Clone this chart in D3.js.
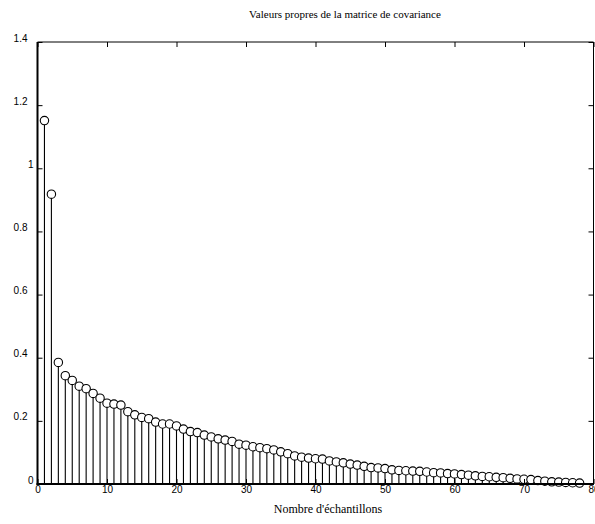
<!DOCTYPE html>
<html><head><meta charset="utf-8">
<script src="https://cdn.jsdelivr.net/npm/d3@7"></script>
<style>
body{margin:0;background:#fff;}
svg{display:block;}
</style></head>
<body>
<svg id="chart" width="595" height="524"></svg>
<script>
const title = "Valeurs propres de la matrice de covariance";
const xLabel = "Nombre d'échantillons";
const values = [1.151,0.918,0.385,0.343,0.328,0.310,0.302,0.287,0.272,0.256,0.253,0.250,0.229,0.219,0.211,0.207,0.196,0.190,0.190,0.184,
0.174,0.166,0.163,0.155,0.149,0.143,0.139,0.135,0.126,0.123,0.118,0.115,0.112,0.108,0.102,0.096,0.089,0.085,0.082,0.080,
0.079,0.073,0.070,0.067,0.063,0.060,0.056,0.052,0.051,0.049,0.045,0.043,0.042,0.041,0.040,0.038,0.036,0.035,0.033,0.032,
0.030,0.028,0.026,0.024,0.023,0.021,0.020,0.018,0.016,0.015,0.014,0.011,0.009,0.007,0.006,0.005,0.004,0.003];
const xTicks = [0,10,20,30,40,50,60,70,80];
const yTicks = [0,0.2,0.4,0.6,0.8,1,1.2,1.4];

const svg = d3.select("#chart");
const L = 37.5, R = 593.5, T = 42, B = 484;
const x = d3.scaleLinear().domain([0,80]).range([L,R]);
const y = d3.scaleLinear().domain([0,1.4]).range([B,T]);
const data = values.map((v,i)=>({n:i+1,v}));

// stems
svg.append("g").selectAll("line").data(data).join("line")
  .attr("x1",d=>x(d.n)).attr("x2",d=>x(d.n))
  .attr("y1",y(0)).attr("y2",d=>y(d.v)+4)
  .attr("stroke","#000").attr("stroke-width",1.1);

// markers
svg.append("g").selectAll("circle").data(data).join("circle")
  .attr("cx",d=>x(d.n)).attr("cy",d=>y(d.v)).attr("r",4.2)
  .attr("fill","#fff").attr("stroke","#000").attr("stroke-width",1.1);

// axes
const font = "Liberation Sans, Arial, sans-serif";
const axB = svg.append("g").attr("transform",`translate(0,${B})`)
  .call(d3.axisBottom(x).tickValues(xTicks).tickSize(-5).tickPadding(3).tickFormat(d3.format("d")));
const axT = svg.append("g").attr("transform",`translate(0,${T})`)
  .call(d3.axisTop(x).tickValues(xTicks).tickSize(-5).tickFormat(""));
const axL = svg.append("g").attr("transform",`translate(${L},0)`)
  .call(d3.axisLeft(y).tickValues(yTicks).tickSize(-5).tickPadding(3).tickFormat(d=>String(d)));
const axR = svg.append("g").attr("transform",`translate(${R},0)`)
  .call(d3.axisRight(y).tickValues(yTicks).tickSize(-5).tickFormat(""));
[axB,axT,axL,axR].forEach(a=>{
  a.select(".domain").remove();
  a.selectAll(".tick line").attr("stroke","#000");
  a.selectAll("text").attr("font-family",font).attr("font-size",10).attr("fill","#000");
});
axL.selectAll(".tick text").attr("dy",null).attr("y",-1)
  .attr("x",d=> Number.isInteger(d) ? -4 : -10);
axB.selectAll(".tick text").attr("dy",null).attr("y",9);

// frame
svg.append("line").attr("x1",L).attr("x2",L).attr("y1",T).attr("y2",B+1).attr("stroke","#000").attr("stroke-width",2);
svg.append("line").attr("x1",L-1).attr("x2",R+0.5).attr("y1",B).attr("y2",B).attr("stroke","#000").attr("stroke-width",2);
svg.append("line").attr("x1",L).attr("x2",R).attr("y1",T).attr("y2",T).attr("stroke","#000").attr("stroke-width",1);
svg.append("line").attr("x1",R).attr("x2",R).attr("y1",T).attr("y2",B).attr("stroke","#000").attr("stroke-width",1);

// title & label
svg.append("text").attr("x",345).attr("y",18).attr("text-anchor","middle")
  .attr("font-family","Liberation Serif, Times New Roman, serif").attr("font-size",11).text(title);
svg.append("text").attr("x",328).attr("y",513).attr("text-anchor","middle")
  .attr("font-family","Liberation Serif, Times New Roman, serif").attr("font-size",12).text(xLabel);
</script>
</body></html>
